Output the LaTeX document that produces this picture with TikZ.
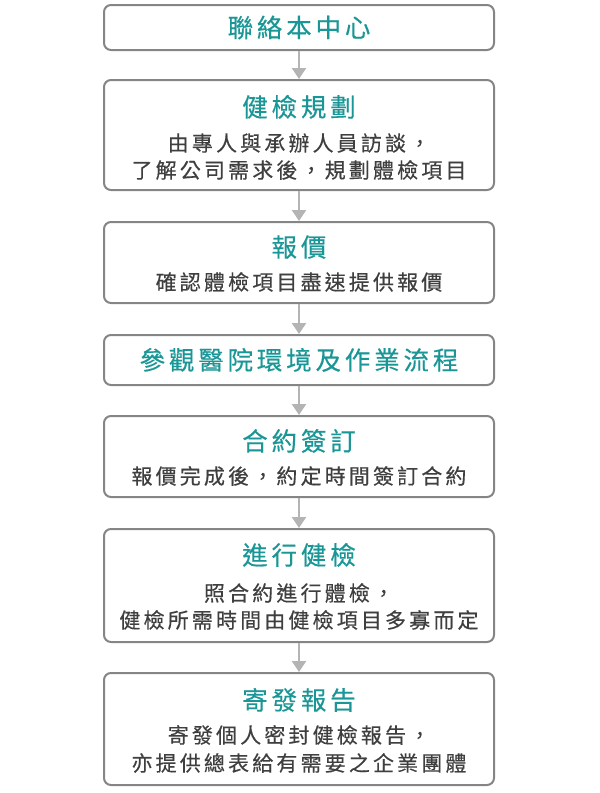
\documentclass[tikz,border=0pt]{standalone}
\usepackage{fontspec}
\usetikzlibrary{arrows.meta}
\newfontfamily\cjkfont[LetterSpace=15,FakeBold=0.4]{Noto Sans CJK TC}
\definecolor{stepteal}{HTML}{1A9696}
\definecolor{stepgray}{HTML}{858585}
\definecolor{bodygray}{HTML}{3F3F3F}
\definecolor{arrowgray}{HTML}{B4B4B4}
\tikzset{
  stepbox/.style={draw=stepgray, line width=2pt, rounded corners=7pt, minimum width=390pt},
  steptitle/.style={inner sep=0pt, text=stepteal, font=\cjkfont\fontsize{25.5}{30}\selectfont, text height=22.4pt, text depth=3.1pt},
  stepbody/.style={inner sep=0pt, text=bodygray, font=\cjkfont\fontsize{21}{27}\selectfont, text height=18.5pt, text depth=2.5pt},
  flow/.style={draw=arrowgray, line width=2.5pt, -{Triangle[width=14pt,length=11pt]}}
}
\begin{document}
\begin{tikzpicture}[x=1pt, y=-1pt]
  \useasboundingbox (0,0) rectangle (600,793);
  % boxes
  \node[stepbox, minimum height=45pt] (contact) at (299,27.5) {};
  \node[stepbox, minimum height=110pt] (plan) at (299,135) {};
  \node[stepbox, minimum height=81pt] (quote) at (299,262.5) {};
  \node[stepbox, minimum height=50pt] (visit) at (299,360) {};
  \node[stepbox, minimum height=81pt] (sign) at (299,456.5) {};
  \node[stepbox, minimum height=113pt] (exam) at (299,585.5) {};
  \node[stepbox, minimum height=112pt] (report) at (299,729) {};
  % titles
  \node[steptitle] (contact-t) at (299,27.5) {聯絡本中心};
  \node[steptitle] (plan-t) at (299,107) {健檢規劃};
  \node[steptitle] (quote-t) at (299,247) {報價};
  \node[steptitle] (visit-t) at (299,360) {參觀醫院環境及作業流程};
  \node[steptitle] (sign-t) at (299,441) {合約簽訂};
  \node[steptitle] (exam-t) at (299,555) {進行健檢};
  \node[steptitle] (report-t) at (299,700) {寄發報告};
  % texts
  \node[stepbody] (plan-a) at (299,143) {由專人與承辦人員訪談，};
  \node[stepbody] (plan-b) at (299,170) {了解公司需求後，規劃體檢項目};
  \node[stepbody] (quote-a) at (299,282) {確認體檢項目盡速提供報價};
  \node[stepbody] (sign-a) at (299,476) {報價完成後，約定時間簽訂合約};
  \node[stepbody] (exam-a) at (299,593) {照合約進行體檢，};
  \node[stepbody] (exam-b) at (299,620) {健檢所需時間由健檢項目多寡而定};
  \node[stepbody] (report-a) at (299,735) {寄發個人密封健檢報告，};
  \node[stepbody] (report-b) at (299,763) {亦提供總表給有需要之企業團體};
  % arrows
  \draw[flow] (contact) -- (plan);
  \draw[flow] (plan) -- (quote);
  \draw[flow] (quote) -- (visit);
  \draw[flow] (visit) -- (sign);
  \draw[flow] (sign) -- (exam);
  \draw[flow] (exam) -- (report);
\end{tikzpicture}
\end{document}
